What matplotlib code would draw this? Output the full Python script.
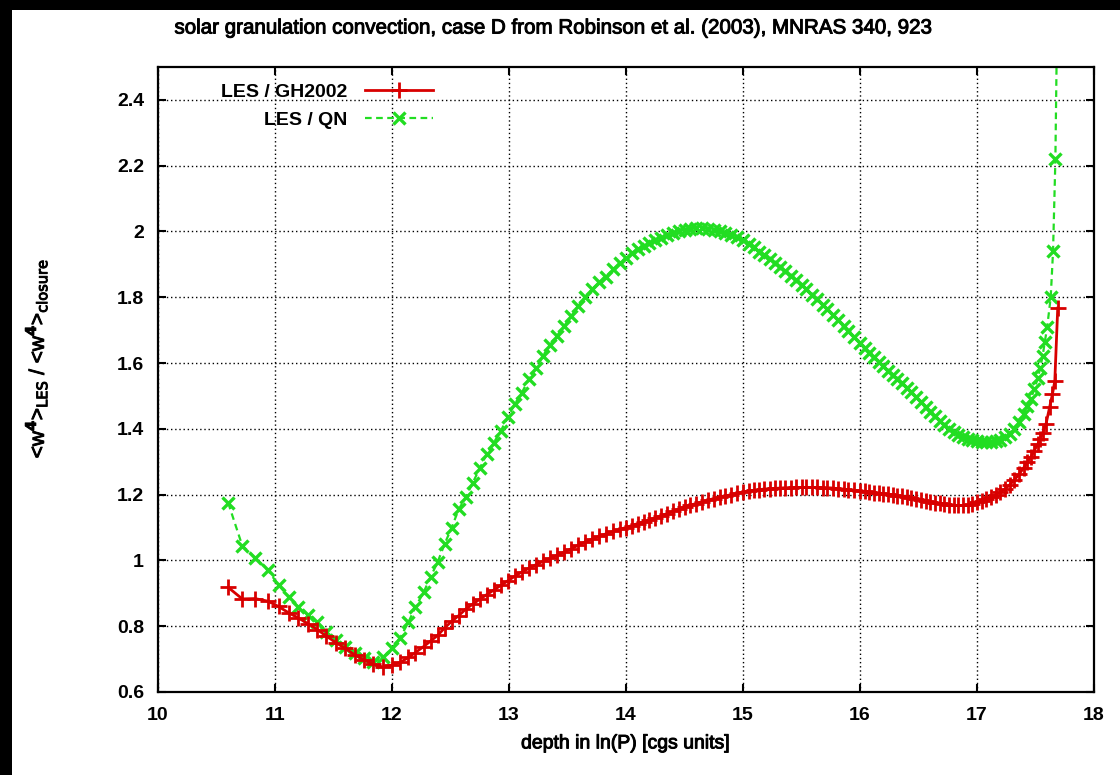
import matplotlib
matplotlib.use("Agg")
import matplotlib.pyplot as plt
import matplotlib.patheffects as pe
from matplotlib.patches import Rectangle

plt.rcParams['font.family'] = ['Liberation Sans', 'DejaVu Sans']

# depth grid, ln(P) in cgs units (shared by both runs)
depth = [10.60, 10.72, 10.83, 10.94, 11.03, 11.12, 11.20, 11.28, 11.36, 11.44,
         11.52, 11.60, 11.68, 11.76, 11.84, 11.92, 12.00,
         12.07, 12.14, 12.20, 12.27, 12.33, 12.39, 12.45, 12.51, 12.57, 12.63,
         12.69, 12.75, 12.81, 12.87, 12.93, 12.99,
         13.05, 13.11, 13.17, 13.23, 13.29, 13.35, 13.41, 13.47, 13.53, 13.59,
         13.65, 13.71, 13.77, 13.83, 13.89, 13.95,
         14.00, 14.05, 14.10, 14.15, 14.20, 14.25, 14.30, 14.35, 14.40, 14.45,
         14.50, 14.55, 14.60, 14.65, 14.70, 14.75, 14.80, 14.85, 14.90, 14.95,
         15.00, 15.05, 15.09, 15.14, 15.18, 15.23, 15.27, 15.32, 15.36, 15.41,
         15.45, 15.50, 15.54, 15.59, 15.63, 15.68, 15.72, 15.77, 15.81, 15.86,
         15.90, 15.95,
         16.00, 16.04, 16.08, 16.12, 16.16, 16.20, 16.24, 16.28, 16.32, 16.36,
         16.40, 16.44, 16.48, 16.52, 16.56, 16.60, 16.64, 16.68, 16.72, 16.76,
         16.80, 16.84, 16.88, 16.92, 16.96,
         17.00, 17.04, 17.08, 17.12, 17.16, 17.20, 17.24, 17.28, 17.32, 17.36,
         17.40, 17.43, 17.46, 17.49, 17.52, 17.54, 17.56]

# LES / GH2002 closure ratio
gh_ratio = [0.918, 0.883, 0.884, 0.876, 0.860, 0.840, 0.825, 0.808, 0.790, 0.770,
            0.750, 0.733, 0.713, 0.698, 0.684, 0.676, 0.682,
            0.690, 0.705, 0.720, 0.738, 0.755, 0.772, 0.795, 0.815, 0.832, 0.852,
            0.867, 0.882, 0.896, 0.910, 0.924, 0.938,
            0.952, 0.965, 0.976, 0.987, 0.997, 1.006, 1.015, 1.025, 1.035, 1.046,
            1.056, 1.065, 1.073, 1.081, 1.088, 1.095,
            1.100, 1.106, 1.112, 1.117, 1.123, 1.130, 1.136, 1.142, 1.149, 1.156,
            1.163, 1.168, 1.173, 1.178, 1.183, 1.188, 1.192, 1.196, 1.200, 1.204,
            1.208, 1.211, 1.213, 1.215, 1.217, 1.218, 1.219, 1.220, 1.221, 1.221,
            1.222, 1.222, 1.222, 1.222, 1.222, 1.221, 1.221, 1.220, 1.218, 1.217,
            1.215, 1.213,
            1.212, 1.210, 1.208, 1.206, 1.205, 1.203, 1.201, 1.199, 1.197, 1.195,
            1.192, 1.189, 1.186, 1.183, 1.180, 1.178, 1.176, 1.174, 1.172, 1.170,
            1.168, 1.167, 1.167, 1.168, 1.172,
            1.177, 1.182, 1.187, 1.193, 1.200, 1.208, 1.217, 1.230, 1.245, 1.262,
            1.282, 1.298, 1.315, 1.334, 1.354, 1.370, 1.386]
gh_tail_depth = [17.59, 17.62, 17.645, 17.665, 17.69]
gh_tail_ratio = [1.415, 1.465, 1.506, 1.545, 1.767]

# LES / QN closure ratio
qn_ratio = [1.175, 1.045, 1.008, 0.970, 0.925, 0.888, 0.858, 0.835, 0.812, 0.783,
            0.758, 0.737, 0.718, 0.702, 0.690, 0.705, 0.733,
            0.765, 0.812, 0.858, 0.903, 0.950, 0.995, 1.050, 1.100, 1.155, 1.192,
            1.236, 1.280, 1.324, 1.358, 1.394, 1.435,
            1.476, 1.510, 1.552, 1.585, 1.622, 1.655, 1.683, 1.712, 1.742, 1.773,
            1.800, 1.824, 1.845, 1.862, 1.885, 1.903,
            1.920, 1.935, 1.946, 1.955, 1.964, 1.973, 1.981, 1.989, 1.996, 2.002,
            2.006, 2.009, 2.010, 2.010, 2.008, 2.005, 2.000, 1.994, 1.988, 1.982,
            1.975, 1.963, 1.952, 1.939, 1.929, 1.916, 1.905, 1.891, 1.880, 1.866,
            1.853, 1.838, 1.825, 1.808, 1.794, 1.778, 1.764, 1.746, 1.732, 1.714,
            1.698, 1.679,
            1.660, 1.646, 1.632, 1.618, 1.604, 1.590, 1.577, 1.564, 1.551, 1.538,
            1.525, 1.511, 1.497, 1.482, 1.467, 1.452, 1.438, 1.424, 1.411, 1.399,
            1.389, 1.381, 1.374, 1.369, 1.365,
            1.362, 1.360, 1.359, 1.360, 1.363, 1.367, 1.374, 1.385, 1.400, 1.420,
            1.445, 1.468, 1.492, 1.520, 1.555, 1.585, 1.620]
qn_tail_depth = [17.58, 17.60, 17.63, 17.65, 17.67, 17.69]
qn_tail_ratio = [1.665, 1.710, 1.800, 1.940, 2.220, 2.800]

x_ticks = [10, 11, 12, 13, 14, 15, 16, 17, 18]
y_ticks = [0.6, 0.8, 1.0, 1.2, 1.4, 1.6, 1.8, 2.0, 2.2, 2.4]
y_labels = ['0.6', '0.8', '1', '1.2', '1.4', '1.6', '1.8', '2', '2.2', '2.4']

# slightly heavier glyphs, like the bitmap png fonts
heavy = [pe.withStroke(linewidth=0.7, foreground='black')]

fig = plt.figure(figsize=(11.2, 7.75), dpi=100, facecolor='black')
# white page inside the black border
fig.patches.append(Rectangle((12 / 1120, 0), 1, 1 - 10 / 775,
                             transform=fig.transFigure, facecolor='white',
                             edgecolor='none', zorder=-10))

ax = fig.add_axes([158 / 1120, 83 / 775, 936 / 1120, 625 / 775])

ax.plot(depth + gh_tail_depth, gh_ratio + gh_tail_ratio, color='#d80000',
        lw=2.0, marker='+', ms=11, mew=2.0, label='LES / GH2002', zorder=3)
ax.plot(depth + qn_tail_depth, qn_ratio + qn_tail_ratio, color='#22dd22',
        lw=1.6, ls=(0, (3, 2)), marker='x', ms=9, mew=2.4,
        label='LES / QN', zorder=2)

ax.set_xlim(10, 18)
ax.set_ylim(0.6, 2.5)
ax.set_xticks(x_ticks)
ax.set_yticks(y_ticks)
ax.set_yticklabels(y_labels)
ax.grid(True, color='black', ls=(0, (1, 2)), lw=1.0)
ax.tick_params(direction='in', length=6, width=1.5, top=True, right=True,
               labelsize=14)
ax.tick_params(axis='x', pad=11)
ax.tick_params(axis='y', pad=10)
for lab in ax.get_xticklabels() + ax.get_yticklabels():
    lab.set_fontweight('bold')
for s in ax.spines.values():
    s.set_linewidth(1.6)

ax.set_xlabel('depth in ln(P) [cgs units]', fontsize=14, labelpad=8,
              path_effects=heavy)
ax.set_ylabel(r'<w$^{\mathbf{4}}$>$_{\mathrm{LES}}$ / <w$^{\mathbf{4}}$>$_{\mathrm{closure}}$',
              fontsize=15, path_effects=heavy)
ax.yaxis.set_label_coords(-0.115, 0.534)

fig.text(552 / 1120, 1 - 28 / 775,
         'solar granulation convection, case D from Robinson et al. (2003), MNRAS 340, 923',
         ha='center', va='center', fontsize=14.8, path_effects=heavy)

leg = ax.legend(loc='upper right', bbox_to_anchor=(0.294, 0.974), frameon=False,
                markerfirst=False, fontsize=14, borderpad=0, borderaxespad=0,
                handlelength=3.5, handletextpad=0.9, labelspacing=0.55)
for t in leg.get_texts():
    t.set_fontweight('bold')

fig.savefig('out.png', dpi=100, facecolor=fig.get_facecolor())
